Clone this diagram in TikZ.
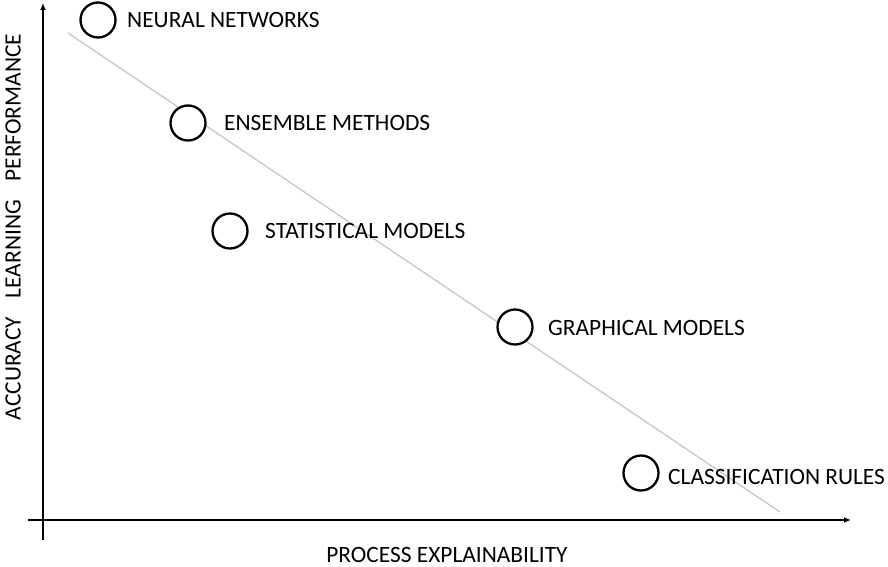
\documentclass[tikz,border=0pt]{standalone}
\usepackage{fontspec}
\setmainfont{Carlito}
\usetikzlibrary{arrows.meta}
\begin{document}
\begin{tikzpicture}[x=1pt,y=-1pt,
  axis/.style={line width=1.8pt,-{Latex[length=7pt,width=6pt]}},
  dot/.style={circle,draw,line width=2.3pt,minimum size=35pt,inner sep=0pt},
  lbl/.style={anchor=west,font=\fontsize{23.4}{26}\selectfont,inner sep=0pt},
  ttl/.style={font=\fontsize{23.4}{26}\selectfont,inner sep=0pt}]
\useasboundingbox (0,0) rectangle (888,567);
\coordinate (ys) at (43,540);
\coordinate (ye) at (43,3);
\coordinate (xs) at (28,520);
\coordinate (xe) at (851,520);
\coordinate (ts) at (68,33);
\coordinate (te) at (780,512);
\draw[gray!45,line width=1.3pt] (ts) -- (te);
\draw[axis] (ys) -- (ye);
\draw[axis] (xs) -- (xe);
\node[dot,fill=white] (nn) at (98,20) {};
\node[dot,fill=white] (em) at (188,123) {};
\node[dot,fill=white] (sm) at (230,231) {};
\node[dot,fill=white] (gm) at (515,327) {};
\node[dot,fill=white] (cr) at (641,473) {};
\node[lbl] (nnl) at (127,20) {NEURAL NETWORKS};
\node[lbl] (eml) at (224,123) {ENSEMBLE METHODS};
\node[lbl] (sml) at (265,231) {STATISTICAL MODELS};
\node[lbl] (gml) at (548,328) {GRAPHICAL MODELS};
\node[lbl] (crl) at (668,477) {CLASSIFICATION RULES};
\node[ttl] (xl) at (447,555) {PROCESS EXPLAINABILITY};
\node[ttl,rotate=90] (yl) at (13,227) {ACCURACY\hspace{0.8em}LEARNING\hspace{0.8em}PERFORMANCE};
\end{tikzpicture}
\end{document}
